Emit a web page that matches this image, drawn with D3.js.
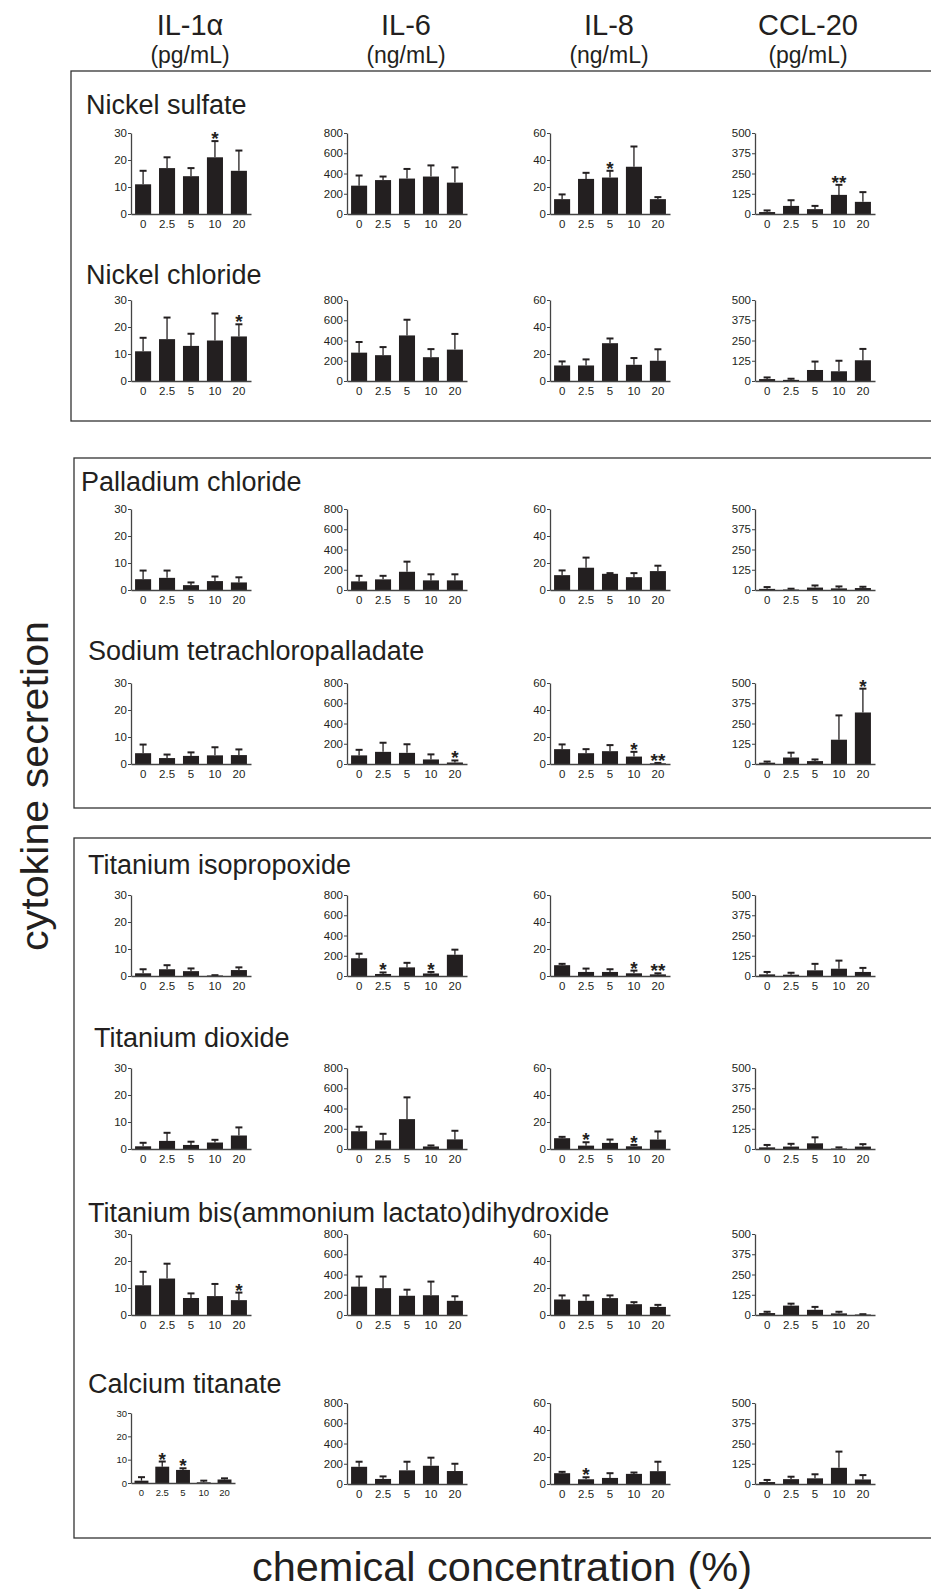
<!DOCTYPE html>
<html>
<head>
<meta charset="utf-8">
<script src="https://cdn.jsdelivr.net/npm/d3@7"></script>
<style>
    body { margin: 0; background: #fff; }
    svg { display: block; font-family: "Liberation Sans", Arial, sans-serif; }
</style>
</head>
<body>
<svg id="chart"></svg>
<script>
// concentrations (%) and cytokines
const concentrations = ['0', '2.5', '5', '10', '20']
const cytokines = ['IL-1\u03b1', 'IL-6', 'IL-8', 'CCL-20']
const units = ['(pg/mL)', '(ng/mL)', '(ng/mL)', '(pg/mL)']
const yMax = [30, 800, 60, 500]
const yTicks = [[0, 10, 20, 30], [0, 200, 400, 600, 800], [0, 20, 40, 60], [0, 125, 250, 375, 500]]

const chemicals = ['Nickel sulfate', 'Nickel chloride', 'Palladium chloride', 'Sodium tetrachloropalladate',
    'Titanium isopropoxide', 'Titanium dioxide', 'Titanium bis(ammonium lactato)dihydroxide', 'Calcium titanate']

// means, one row per cytokine (IL-1a, IL-6, IL-8, CCL-20)
const meanNiSO4 = [[11, 17, 14, 21, 16], [280, 335, 350, 370, 310], [11, 26, 27, 35, 11], [12, 50, 30, 118, 75]]
const meanNiCl2 = [[11, 15.5, 13, 15, 16.5], [280, 255, 450, 235, 310], [11.5, 11.5, 28, 12, 15], [12, 7, 68, 60, 128]]
const meanPdCl2 = [[4, 4.5, 1.8, 3.3, 2.8], [85, 105, 180, 95, 95], [11, 16.5, 12, 9.5, 14], [7, 3, 15, 10, 12]]
const meanNa2PdCl4 = [[4, 2.2, 3, 3.2, 3.3], [85, 120, 110, 45, 15], [11, 8, 9.5, 5.5, 0.5], [8, 40, 18, 150, 318]]
const meanTiIso = [[1, 2.5, 1.8, 0.2, 2.2], [175, 20, 85, 25, 210], [8, 3, 3, 2, 1.2], [10, 8, 35, 45, 25]]
const meanTiO2 = [[1, 3, 1.5, 2.4, 5], [175, 85, 295, 25, 95], [8, 2.5, 4.5, 2, 7], [10, 15, 35, 3, 15]]
const meanTiBALDH = [[11, 13.5, 6.3, 7, 5.5], [280, 265, 190, 195, 140], [11.5, 10.5, 12.5, 8, 6], [12, 58, 32, 10, 3]]
const meanCaTiO3 = [[1, 7, 5.6, 0.3, 1.5], [170, 50, 135, 180, 128], [8, 3.5, 4.5, 7.5, 9.5], [12, 30, 35, 100, 28]]

// top of the error bar (mean + SD)
const errNiSO4 = [[16, 21, 17, 27, 23.5], [380, 370, 445, 480, 460], [14.5, 30.5, 32, 50, 12.5], [22, 85, 50, 180, 135]]
const errNiCl2 = [[16, 23.5, 17.5, 25, 21], [385, 335, 605, 315, 465], [14.5, 16, 31.5, 17, 23.5], [22, 14, 120, 125, 198]]
const errPdCl2 = [[7.2, 7.2, 2.8, 5, 4.7], [140, 140, 280, 155, 155], [14.5, 24, 12.5, 12.5, 18], [18, 8, 28, 22, 20]]
const errNa2PdCl4 = [[7.2, 3.5, 4.3, 6.2, 5.4], [140, 210, 195, 95, 35], [14.5, 11, 14, 9, 0.8], [15, 70, 28, 300, 465]]
const errTiIso = [[2.5, 4, 2.8, 0.3, 3.2], [220, 35, 130, 40, 260], [9, 5.5, 5, 4, 2], [25, 20, 75, 95, 50]]
const errTiO2 = [[2.3, 6, 2.7, 3.4, 8], [220, 150, 510, 35, 180], [9, 5, 7, 3, 13], [25, 32, 72, 10, 30]]
const errTiBALDH = [[16, 19, 8, 11.5, 8.3], [380, 380, 250, 330, 185], [14.5, 14.5, 14.5, 9.5, 7.5], [20, 70, 50, 20, 5]]
const errCaTiO3 = [[2.5, 9.2, 6.3, 1, 2], [220, 75, 220, 260, 200], [9, 5, 8, 8.5, 16.5], [25, 45, 60, 200, 55]]

// significance marks: [cytokine, concentration index, label]
const sigNiSO4 = [[0, 3, '*'], [2, 2, '*'], [3, 3, '**']]
const sigNiCl2 = [[0, 4, '*']]
const sigPdCl2 = []
const sigNa2PdCl4 = [[1, 4, '*'], [2, 3, '*'], [2, 4, '**'], [3, 4, '*']]
const sigTiIso = [[1, 1, '*'], [1, 3, '*'], [2, 3, '*'], [2, 4, '**']]
const sigTiO2 = [[2, 1, '*'], [2, 3, '*']]
const sigTiBALDH = [[0, 4, '*']]
const sigCaTiO3 = [[0, 1, '*'], [0, 2, '*'], [2, 1, '*']]

const means = [meanNiSO4, meanNiCl2, meanPdCl2, meanNa2PdCl4, meanTiIso, meanTiO2, meanTiBALDH, meanCaTiO3]
const errs = [errNiSO4, errNiCl2, errPdCl2, errNa2PdCl4, errTiIso, errTiO2, errTiBALDH, errCaTiO3]
const sigs = [sigNiSO4, sigNiCl2, sigPdCl2, sigNa2PdCl4, sigTiIso, sigTiO2, sigTiBALDH, sigCaTiO3]

buildFigure()

function buildFigure() {

    const width = 931
    const height = 1591
    const ink = '#231f20'

    const colX = [131, 347, 550, 755]
    const rowTop = [133, 300, 509, 683, 895, 1068, 1234, 1403]
    const titleY = [114, 284, 491, 660, 874, 1047, 1222, 1393]
    const titleX = [86, 86, 81, 88, 88, 94, 88, 88]
    const headerX = [190, 406, 609, 808]

    const svg = d3.select('#chart')
        .attr('width', width)
        .attr('height', height)

    svg.append('rect')
        .attr('width', '100%')
        .attr('height', '100%')
        .style('fill', '#fff')

    // group frames
    const frames = [[71, 71, 421], [74, 458, 808], [74, 838, 1538]]
    frames.forEach(f => {
        svg.append('rect')
            .attr('x', f[0])
            .attr('y', f[1])
            .attr('width', 960 - f[0])
            .attr('height', f[2] - f[1])
            .style('fill', 'none')
            .style('stroke', '#333')
            .style('stroke-width', 1.3)
    })

    // column headers
    cytokines.forEach((name, i) => {
        svg.append('text')
            .attr('x', headerX[i])
            .attr('y', 35)
            .attr('text-anchor', 'middle')
            .style('font-size', '29px')
            .style('fill', ink)
            .text(name)
        svg.append('text')
            .attr('x', headerX[i])
            .attr('y', 63)
            .attr('text-anchor', 'middle')
            .style('font-size', '23px')
            .style('fill', ink)
            .text(units[i])
    })

    // axis titles
    svg.append('text')
        .attr('transform', 'translate(48,786) rotate(-90)')
        .attr('text-anchor', 'middle')
        .attr('textLength', 330)
        .attr('lengthAdjust', 'spacingAndGlyphs')
        .style('font-size', '38px')
        .style('fill', ink)
        .text('cytokine secretion')

    svg.append('text')
        .attr('x', 502)
        .attr('y', 1581)
        .attr('text-anchor', 'middle')
        .attr('textLength', 500)
        .attr('lengthAdjust', 'spacingAndGlyphs')
        .style('font-size', '40px')
        .style('fill', ink)
        .text('chemical concentration (%)')

    chemicals.forEach((chem, r) => {
        svg.append('text')
            .attr('x', titleX[r])
            .attr('y', titleY[r])
            .style('font-size', '27px')
            .style('fill', ink)
            .text(chem)

        cytokines.forEach((cy, c) => {
            let w = 120, h = 81, top = rowTop[r], fs = 11.5
            if (r === 7 && c === 0) { w = 104; h = 70; top = 1413; fs = 9.5 }
            const g = svg.append('g').attr('transform', `translate(${colX[c]},${top})`)
            drawPanel(g, means[r][c], errs[r][c], sigs[r].filter(s => s[0] === c), c, w, h, fs, ink)
        })
    })
}

function drawPanel(g, mean, errTop, marks, c, w, h, fs, ink) {

    const x = d3.scaleBand()
        .domain(concentrations)
        .range([0, w])
        .paddingInner(0.33)
        .paddingOuter(0.17)

    const y = d3.scaleLinear()
        .domain([0, yMax[c]])
        .range([h, 0])

    const cx = i => x(concentrations[i]) + x.bandwidth() / 2

    // error bars (upper only)
    mean.forEach((m, i) => {
        g.append('line')
            .attr('x1', cx(i)).attr('x2', cx(i))
            .attr('y1', y(m)).attr('y2', y(errTop[i]))
            .style('stroke', ink)
            .style('stroke-width', 1.3)
        g.append('line')
            .attr('x1', cx(i) - 3.5).attr('x2', cx(i) + 3.5)
            .attr('y1', y(errTop[i])).attr('y2', y(errTop[i]))
            .style('stroke', ink)
            .style('stroke-width', 2)
    })

    g.selectAll('rect.bar')
        .data(mean)
        .join('rect')
        .attr('class', 'bar')
        .attr('x', (d, i) => x(concentrations[i]))
        .attr('y', d => y(d))
        .attr('width', x.bandwidth())
        .attr('height', d => h - y(d))
        .style('fill', ink)

    const yAxis = g.append('g')
        .call(d3.axisLeft(y).tickValues(yTicks[c]).tickSize(3).tickSizeOuter(0).tickPadding(1))
    const xAxis = g.append('g')
        .attr('transform', `translate(0,${h})`)
        .call(d3.axisBottom(x).tickSize(0).tickSizeOuter(0).tickPadding(6))

    ;[yAxis, xAxis].forEach(a => {
        a.select('.domain').style('stroke', '#444').style('stroke-width', 1.3)
        a.selectAll('line').style('stroke', '#444')
        a.selectAll('text')
            .style('font-family', '"Liberation Sans", Arial, sans-serif')
            .style('font-size', fs + 'px')
            .style('fill', ink)
    })

    marks.forEach(s => {
        g.append('text')
            .attr('x', cx(s[1]))
            .attr('y', y(errTop[s[1]]) + 4)
            .attr('text-anchor', 'middle')
            .style('font-size', '19px')
            .style('font-weight', 'bold')
            .style('fill', ink)
            .text(s[2])
    })
}
</script>
</body>
</html>
